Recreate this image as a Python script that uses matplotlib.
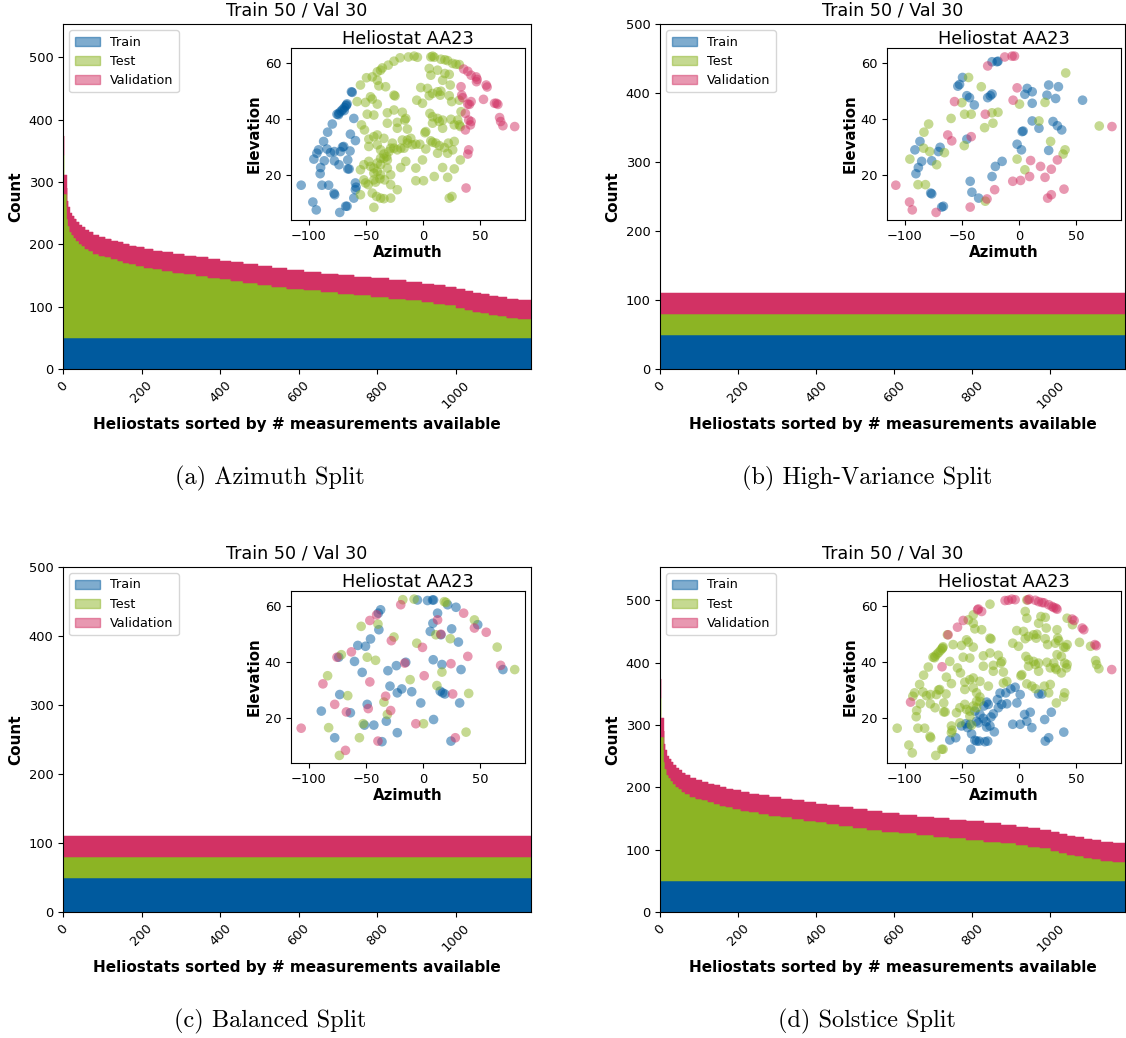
import matplotlib
import numpy as np

matplotlib.use('agg')

import matplotlib.pyplot as plt
from matplotlib.patches import Patch

# measurements available per heliostat, sorted: count value and how many heliostats share it
count_levels = [527, 373, 311, 290, 270, 260, 250, 245, 240, 235, 231, 227, 223, 219, 215,
                212, 209, 206, 203, 200, 198, 195, 192, 190, 187, 184, 182, 179, 176, 174,
                171, 168, 165, 162, 159, 156, 153, 151, 148, 146, 143, 140, 137, 134, 132,
                128, 125, 122, 120, 117, 115, 112, 110]
heliostats_per_level = [1, 2, 6, 2, 2, 4, 5, 6, 6, 7, 7, 8, 9, 12, 14,
                        16, 16, 16, 14, 16, 18, 20, 22, 24, 26, 30, 30, 30, 30, 28,
                        32, 36, 36, 38, 44, 44, 44, 40, 44, 44, 44, 40, 30, 30, 28,
                        22, 20, 20, 22, 22, 22, 30, 32]
n_train = 50
n_val = 30
n_test_cap = 30  # balanced / high-variance splits keep test the same size as val

# Heliostat AA23 sun positions (azimuth, elevation)
# (a) azimuth split
a_train = [(-106.6, 16.4), (-96.4, 10.4), (-93.4, 7.6), (-95.5, 25.7), (-92.9, 27.8), (-91.4, 29.0),
           (-87.0, 32.0), (-83.5, 35.3), (-79.4, 38.2), (-89.6, 22.7), (-90.0, 20.5), (-86.4, 25.1),
           (-84.0, 29.3), (-88.5, 16.4), (-82.6, 16.4), (-77.6, 25.1), (-77.6, 28.4), (-73.5, 23.7),
           (-72.3, 28.4), (-69.4, 30.2), (-77.9, 13.5), (-77.3, 13.0), (-72.9, 6.7), (-67.7, 8.9),
           (-66.5, 8.9), (-65.9, 22.2), (-64.7, 22.2), (-65.9, 25.4), (-63.9, 28.6), (-63.6, 34.6),
           (-59.2, 32.3), (-60.6, 40.2), (-62.7, 49.7), (-75.3, 41.7), (-73.5, 42.1), (-71.8, 42.8),
           (-70.3, 43.4), (-68.8, 44.1), (-67.4, 44.7), (-66.5, 45.4), (-74.0, 41.5), (-69.0, 43.0),
           (-67.0, 45.0), (-59.2, 17.2), (-59.2, 14.8), (-58.6, 15.7), (-60.6, 11.8), (-62.0, 49.5),
           (-70.5, 30.0), (-81.0, 28.0)]
a_test = [(-12.9, 62.1), (-7.9, 62.4), (-5.0, 62.0), (6.7, 62.1), (8.2, 62.4), (9.7, 62.0), (15.5, 61.3),
          (19.0, 61.1), (21.4, 60.8), (25.8, 59.8), (28.7, 59.5), (31.6, 59.4), (-20.2, 61.8),
          (-25.5, 60.6), (-30.5, 59.2),
          (-37.2, 57.4), (-40.1, 56.8), (-35.7, 58.2), (-44.5, 55.0), (-49.5, 54.7), (5.3, 58.0),
          (6.7, 55.6), (12.6, 57.4), (19.0, 56.2), (22.8, 55.9),
          (-54.8, 52.1), (-40.1, 53.8), (-38.7, 51.8), (-32.8, 51.5), (-2.1, 51.2), (3.8, 50.9),
          (12.6, 49.7), (15.5, 49.9), (23.7, 52.1), (17.0, 53.8),
          (-57.7, 46.2), (-50.4, 45.9), (-46.0, 47.9), (-44.5, 47.1), (-40.1, 45.3), (-25.5, 48.5),
          (-24.6, 48.2), (-5.6, 46.7), (-0.6, 45.6), (5.3, 48.3), (8.2, 49.1), (14.9, 48.5),
          (22.8, 48.3), (24.9, 46.2), (31.6, 46.7),
          (-48.9, 41.7), (-43.1, 41.4), (-31.3, 42.2), (-25.5, 43.2), (-18.2, 42.4), (-16.1, 39.6),
          (-15.2, 40.2), (5.9, 42.0), (8.2, 40.8), (12.6, 40.2), (17.0, 39.6), (24.3, 39.9),
          (30.2, 39.6), (33.1, 42.6),
          (-53.9, 37.9), (-51.3, 36.1), (-43.1, 33.7), (-40.1, 34.3), (-31.3, 38.5), (-22.6, 38.8),
          (-22.6, 36.7), (-13.8, 36.4), (2.3, 35.5), (1.5, 35.1), (8.2, 38.5), (14.1, 39.1),
          (17.0, 36.7), (27.2, 37.9), (31.6, 37.9), (32.5, 37.3),
          (-47.5, 30.2), (-47.5, 32.8), (-40.1, 30.8), (-34.3, 33.1), (-26.9, 31.4), (-18.2, 32.5),
          (-13.8, 32.5), (-10.8, 33.1), (-6.4, 31.0), (-2.9, 31.0), (2.3, 29.3), (6.7, 32.2),
          (8.2, 31.7), (11.1, 31.4), (14.1, 30.5), (18.5, 29.8), (22.0, 31.4), (27.2, 32.0),
          (25.8, 29.0),
          (-37.2, 29.0), (-34.3, 27.5), (-31.9, 26.6), (-29.9, 28.4), (-28.4, 29.6), (-25.5, 29.6),
          (-22.6, 29.0), (-19.6, 29.6), (-16.7, 29.6), (-13.8, 31.4), (-9.4, 30.8), (-37.2, 26.0),
          (-34.3, 26.0), (-31.3, 25.4), (-37.2, 23.7), (-15.2, 24.9), (-0.6, 25.4), (12.6, 27.8),
          (21.4, 27.8), (32.5, 25.4),
          (-54.8, 21.9), (-51.8, 23.7), (-47.5, 24.9), (-46.0, 23.1), (-43.1, 22.5), (-40.1, 24.3),
          (-43.1, 20.7), (-40.1, 21.3), (-37.2, 20.1), (-31.3, 22.5), (-28.4, 20.1), (-19.6, 22.7),
          (-6.4, 22.5), (9.7, 19.5), (17.0, 22.7), (21.4, 19.2), (27.2, 22.2),
          (-51.8, 18.3), (-50.4, 17.2), (-48.0, 16.6), (-43.1, 18.3), (-41.6, 17.5), (-37.8, 18.7),
          (-33.7, 18.3), (-28.4, 16.6), (-22.6, 14.8), (-6.4, 18.0), (0.3, 18.0),
          (-44.5, 13.6), (-40.7, 12.4), (-37.2, 11.8), (-34.3, 11.6), (-28.4, 11.8), (22.8, 11.8),
          (25.2, 12.4), (-54.8, 13.0), (-43.1, 8.5)]
a_val = [(35.4, 57.8), (39.0, 57.0), (41.9, 55.6), (46.3, 55.0), (47.2, 54.1), (46.6, 53.3), (55.1, 52.1),
         (55.9, 51.4), (33.1, 51.5), (33.7, 48.5), (34.6, 47.6), (39.0, 45.3), (40.4, 45.2), (41.9, 46.2),
         (52.7, 47.0), (62.4, 45.6), (64.1, 45.6), (65.3, 45.2), (36.9, 42.0), (39.8, 39.6), (41.9, 39.1),
         (41.3, 37.9), (36.9, 36.1), (66.8, 40.5), (67.7, 39.1), (69.7, 37.6), (80.0, 37.3), (39.8, 29.0),
         (39.0, 27.5), (37.5, 15.4)]

# (b) high-variance split
b_train = [(-23.7, 60.4), (-19.3, 60.4), (-18.5, 60.6), (-53.6, 51.7), (-52.1, 52.3), (-49.5, 54.8),
           (-45.7, 48.3), (-43.4, 47.6), (-39.2, 45.0), (-25.2, 48.3), (-23.7, 48.9), (-27.5, 47.6),
           (-45.7, 32.8), (-86.7, 32.0), (-91.1, 29.0), (-85.2, 24.9), (-88.1, 22.7), (-90.2, 20.5),
           (-76.4, 25.1), (-77.3, 13.6), (-76.4, 13.3), (-67.7, 8.6), (-66.2, 8.9), (-70.6, 28.4),
           (-69.1, 29.9), (-42.8, 17.8), (-41.3, 13.9), (-35.4, 11.8), (-23.7, 19.5), (-20.8, 23.1),
           (-14.9, 24.9), (-1.8, 31.0), (2.0, 29.0), (2.6, 35.5), (3.5, 35.7), (5.0, 48.8), (7.0, 50.9),
           (11.4, 49.7), (11.4, 45.6), (11.4, 39.3), (17.3, 36.7), (25.8, 52.1), (24.3, 48.5),
           (25.8, 28.8), (29.6, 39.1), (31.9, 47.3), (34.3, 51.5), (33.4, 37.6), (37.2, 36.1),
           (55.4, 46.7)]
b_test = [(-44.2, 54.8), (-33.1, 51.5), (-23.7, 42.2), (-41.9, 41.7), (-47.7, 41.7), (-50.1, 45.8),
          (-59.5, 40.2), (-79.1, 38.2), (-83.2, 35.3), (-83.5, 29.6), (-78.2, 28.4), (-65.3, 28.0),
          (-72.1, 23.7), (-95.5, 25.7), (-88.4, 16.6), (-81.9, 16.6), (-48.0, 30.5), (-30.2, 36.9),
          (-22.9, 38.5), (-18.5, 42.4), (-29.6, 10.7), (-1.8, 25.7), (0.3, 45.3), (5.0, 21.9),
          (17.3, 39.3), (22.6, 45.9), (27.5, 32.0), (40.7, 56.4), (40.1, 29.0), (38.4, 27.5),
          (70.0, 37.5)]
b_val = [(-107.8, 16.4), (-95.8, 10.4), (-93.4, 7.6), (-72.6, 6.7), (-42.8, 8.6), (-28.1, 11.5),
         (-21.4, 14.8), (-56.5, 46.2), (-62.4, 34.3), (-58.9, 32.2), (-41.9, 33.7), (-29.6, 41.7),
         (-27.5, 58.9), (-12.6, 62.1), (-6.2, 62.4), (-4.1, 62.4), (-1.8, 51.1), (-5.3, 46.7),
         (-5.6, 17.8), (1.2, 18.1), (10.0, 25.2), (9.1, 19.5), (18.7, 23.1), (22.6, 19.2),
         (24.9, 11.8), (28.1, 13.0), (28.1, 22.1), (33.4, 25.4), (39.2, 15.0), (81.1, 37.3)]

# (c) balanced split
c_train = [(-5.0, 62.1), (3.8, 61.9), (8.2, 62.1), (9.1, 62.1), (21.4, 60.4), (28.7, 59.5), (12.6, 57.4),
           (6.2, 50.9), (15.5, 49.7), (24.9, 51.8), (30.8, 47.1), (47.7, 53.3), (69.7, 37.3), (8.8, 40.8),
           (16.4, 39.1), (33.1, 37.3), (31.9, 25.4), (14.9, 29.6), (17.0, 29.0), (19.0, 28.6),
           (9.1, 19.5), (-2.1, 25.4), (-10.0, 29.4), (-18.7, 30.4), (-22.6, 29.0), (-29.0, 31.4),
           (-30.8, 36.9), (-23.4, 38.7), (-15.2, 39.9), (24.3, 11.8), (-37.2, 58.6), (-39.2, 57.4),
           (-38.7, 51.5), (-46.0, 48.2), (-50.4, 45.6), (-57.1, 45.9), (-60.0, 40.2), (-53.3, 36.3),
           (-72.9, 28.4), (-63.6, 21.9), (-89.0, 22.5), (-77.3, 13.0), (-48.9, 24.9), (-43.1, 17.5),
           (-51.3, 17.5), (-36.0, 11.6), (-32.2, 18.9), (-22.6, 14.8), (8.5, 53.8), (-73.8, 41.7)]
c_test = [(-7.9, 62.4), (18.5, 61.5), (20.0, 61.2), (-5.6, 46.7), (11.1, 49.7), (23.7, 48.3), (44.8, 55.0),
          (64.7, 45.3), (80.0, 37.3), (16.4, 36.4), (-11.4, 33.7), (12.0, 31.6), (39.8, 28.8),
          (37.5, 15.0), (0.3, 18.0), (-31.3, 21.3), (-34.3, 25.7), (-52.4, 18.0), (-55.7, 13.0),
          (-82.6, 16.6), (-65.9, 28.0), (-83.5, 35.1), (-71.5, 42.6), (-48.9, 41.7), (-41.6, 40.6),
          (-25.5, 48.9), (-39.5, 53.5), (-54.2, 52.7), (-73.2, 6.7), (-17.8, 62.2)]
c_val = [(-106.6, 16.4), (-87.6, 32.2), (-77.3, 24.9), (-75.3, 41.7), (-67.1, 22.2), (-67.9, 8.5),
         (-62.7, 43.6), (-46.6, 54.8), (-40.7, 56.8), (-46.6, 32.9), (-48.0, 23.4), (-32.8, 27.8),
         (-39.5, 11.8), (-28.4, 22.7), (-19.6, 60.4), (-27.8, 47.6), (-16.1, 39.6), (-6.4, 18.0),
         (-0.6, 45.2), (0.9, 35.1), (12.6, 55.0), (15.5, 49.9), (24.3, 39.4), (25.8, 28.6),
         (28.1, 13.0), (35.4, 57.4), (39.0, 42.0), (44.8, 52.1), (55.1, 50.6), (67.7, 38.8)]

# (d) solstice split (test = all remaining measurements)
d_train = [(-60.6, 12.2), (-55.4, 13.0), (-50.4, 17.2), (-46.6, 18.0), (-43.1, 17.8), (-41.6, 14.4),
           (-42.2, 8.9), (-38.7, 12.1), (-37.2, 11.8), (-34.9, 11.8), (-29.9, 11.6), (-27.5, 11.8),
           (-37.2, 18.9), (-35.7, 18.3), (-34.3, 21.3), (-38.7, 22.5), (-31.3, 19.9), (-29.0, 18.7),
           (-28.4, 16.8), (-25.5, 17.2), (-28.4, 25.7), (-27.0, 24.9), (-24.6, 20.4), (-21.7, 15.1),
           (-18.2, 23.7), (-15.2, 24.9), (-19.0, 26.6), (-16.7, 28.9), (-11.7, 29.0), (-7.3, 30.4),
           (-3.5, 31.0), (0.9, 28.4), (-2.0, 25.4), (-5.6, 17.8), (0.9, 17.8), (4.7, 21.3), (9.7, 22.1),
           (11.1, 16.6), (6.7, 18.9), (17.0, 28.6), (19.9, 28.6), (22.3, 19.5), (28.1, 22.1),
           (22.8, 11.8), (25.8, 13.0), (39.0, 15.0), (-22.6, 21.5), (-10.8, 25.1), (-45.1, 16.6),
           (-30.8, 24.3)]
d_val = [(-94.9, 25.7), (-67.4, 38.3), (-62.1, 49.7), (-53.9, 52.4), (-48.9, 54.8), (-36.3, 58.6),
         (-35.7, 58.9), (-12.3, 61.9), (-6.4, 62.4), (-3.5, 62.2), (7.6, 62.1), (8.8, 62.4), (17.0, 61.5),
         (19.9, 61.2), (21.7, 61.1), (28.7, 59.8), (30.2, 59.4), (32.2, 59.2), (33.1, 58.8), (46.3, 55.3),
         (48.0, 54.8), (55.1, 52.1), (56.5, 51.5), (66.2, 46.2), (67.4, 45.8), (80.9, 37.3), (25.8, 60.4),
         (14.1, 62.0), (-9.4, 62.0), (-32.8, 58.0)]

titles = ['(a) Azimuth Split', '(b) High-Variance Split', '(c) Balanced Split', '(d) Solstice Split']

C_TRAIN = '#005a9e'
C_TEST = '#8cb424'
C_VAL = '#d23264'


def remaining(full, taken):
    # drop the measurement closest to each taken one
    pts = np.array(full, dtype=float)
    keep = np.ones(len(pts), bool)
    for az, el in taken:
        dist = np.hypot(pts[:, 0] - az, pts[:, 1] - el)
        dist[~keep] = np.inf
        keep[np.argmin(dist)] = False
    return pts[keep]


counts = np.repeat(count_levels, heliostats_per_level)
n_helio = len(counts)
x = np.arange(n_helio)

all_points = a_train + a_test + a_val
d_test = remaining(all_points, d_train + d_val)
scatter_sets = [
    (a_train, a_test, a_val),
    (b_train, b_test, b_val),
    (c_train, c_test, c_val),
    (d_train, d_test, d_val),
]
capped = [False, True, True, False]

W, H = 1126, 1038
fig = plt.figure(figsize=(W / 100, H / 100), dpi=100)


def box(l, t, r, b):
    return [l / W, 1 - b / H, (r - l) / W, (b - t) / H]


main_boxes = [box(63, 24, 531, 369), box(660, 24, 1125, 369),
              box(63, 567, 531, 912), box(660, 567, 1125, 912)]
inset_boxes = [box(291, 48, 525, 220), box(887, 48, 1121, 220),
               box(291, 591, 525, 763), box(887, 591, 1121, 763)]
caption_pos = [(270, 478), (867, 478), (270, 1021), (867, 1021)]

for i in range(4):
    ax = fig.add_axes(main_boxes[i])
    train = np.full(n_helio, n_train)
    val = np.full(n_helio, n_val)
    test = counts - n_train - n_val
    if capped[i]:
        test = np.minimum(test, n_test_cap)
    bottom = np.zeros(n_helio)
    for h, col in [(train, C_TRAIN), (test, C_TEST), (val, C_VAL)]:
        ax.bar(x, h, width=1.0, align='edge', bottom=bottom, color=col,
               edgecolor=col, linewidth=0.3)
        bottom = bottom + h
    ax.set_xlim(0, n_helio)
    if capped[i]:
        ax.set_ylim(0, 500)
    else:
        ax.set_ylim(0, 1.05 * counts.max())
    ax.set_xticks([0, 200, 400, 600, 800, 1000])
    plt.setp(ax.get_xticklabels(), rotation=45, fontsize=9.4)
    plt.setp(ax.get_yticklabels(), fontsize=9.4)
    ax.set_title('Train 50 / Val 30', fontsize=12.6)
    ax.set_xlabel('Heliostats sorted by # measurements available', fontsize=11, fontweight='bold')
    ax.set_ylabel('Count', fontsize=11, fontweight='bold')

    handles = [Patch(color=C_TRAIN, alpha=0.5, label='Train'),
               Patch(color=C_TEST, alpha=0.5, label='Test'),
               Patch(color=C_VAL, alpha=0.5, label='Validation')]
    ax.legend(handles=handles, loc='upper left', fontsize=9.2)

    ins = fig.add_axes(inset_boxes[i])
    for pts, col in zip(scatter_sets[i], [C_TRAIN, C_TEST, C_VAL]):
        pts = np.asarray(pts)
        ins.scatter(pts[:, 0], pts[:, 1], s=48, color=col, alpha=0.5, edgecolors='none')
    ins.set_xlim(-115.5, 89)
    ins.set_ylim(4.0, 65.3)
    ins.set_xticks([-100, -50, 0, 50])
    ins.set_yticks([20, 40, 60])
    ins.tick_params(labelsize=9.4)
    ins.set_title('Heliostat AA23', fontsize=12.8, pad=3)
    ins.set_xlabel('Azimuth', fontsize=10.8, fontweight='bold', labelpad=2)
    ins.set_ylabel('Elevation', fontsize=10.8, fontweight='bold', labelpad=2)

    cx, cy = caption_pos[i]
    fig.text(cx / W, 1 - cy / H, titles[i], family='cmr10', fontsize=17.5,
             ha='center', va='center')

fig.savefig('out.png', dpi=100)
plt.close(fig)
